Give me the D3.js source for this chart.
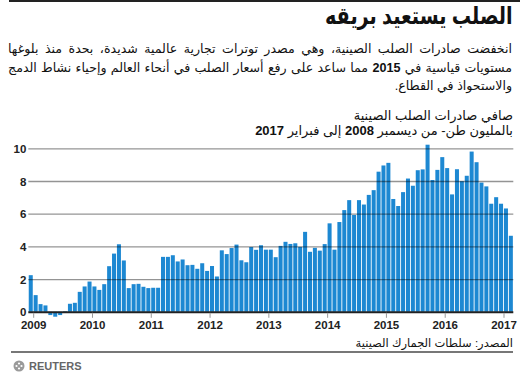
<!DOCTYPE html>
<html><head><meta charset="utf-8">
<script src="https://cdn.jsdelivr.net/npm/d3@7/dist/d3.min.js"></script>
<style>
html,body{margin:0;padding:0;background:#fff;}
#wrap{position:relative;width:520px;height:378px;overflow:hidden;font-family:"Liberation Sans","DejaVu Sans",sans-serif;color:#111;}
.t{position:absolute;direction:rtl;white-space:nowrap;}
.j{position:absolute;direction:rtl;text-align:justify;text-align-last:justify;white-space:nowrap;}
svg{position:absolute;left:0;top:0;}
</style></head>
<body><div id="wrap"></div>
<script>
const title = "الصلب يستعيد بريقه";
const introLines = [
  "انخفضت صادرات الصلب الصينية، وهي مصدر توترات تجارية عالمية شديدة، بحدة منذ بلوغها",
  "مستويات قياسية في <b>2015</b> مما ساعد على رفع أسعار الصلب في أنحاء العالم وإحياء نشاط الدمج",
  "والاستحواذ في القطاع."
];
const subtitle1 = "صافي صادرات الصلب الصينية";
const subtitle2 = "بالمليون طن- من ديسمبر <b>2008</b> إلى فبراير <b>2017</b>";
const source = "المصدر: سلطات الجمارك الصينية";

// months from Dec 2008 to Feb 2017
const startYear = 2008, startMonth = 11; // Dec 2008 (0-based month)
const exportsMt = [
  2.24,
  1.02, 0.47, 0.39, -0.2, -0.3, -0.2, 0.04, 0.49, 0.55, 1.22, 1.55, 1.85,
  1.55, 1.34, 1.69, 2.79, 3.56, 4.13, 3.14, 1.45, 1.69, 1.71, 1.53, 1.45,
  1.47, 1.47, 3.36, 3.36, 3.46, 3.08, 3.2, 2.85, 2.87, 2.63, 2.97, 2.5,
  2.8, 2.16, 3.76, 3.53, 3.9, 4.11, 3.15, 3.03, 3.96, 3.79, 4.07, 3.8,
  3.8, 3.34, 4.03, 4.28, 4.15, 4.19, 3.97, 4.89, 3.67, 3.91, 3.74, 4.14,
  5.41, 3.8, 5.49, 6.22, 6.83, 5.92, 6.83, 6.56, 7.15, 7.44, 8.57, 8.95,
  9.11, 6.9, 6.47, 7.32, 8.15, 7.71, 8.66, 8.71, 10.22, 8.06, 8.68, 9.46,
  8.79, 7.18, 8.72, 7.99, 8.32, 9.8, 9.15, 7.9, 7.67, 6.61, 7.01, 6.61,
  6.32, 4.65
];
const yTicks = [0, 2, 4, 6, 8, 10];
const yearTicks = [2009, 2010, 2011, 2012, 2013, 2014, 2015, 2016, 2017];

const wrap = d3.select("#wrap");

// top rule
wrap.append("div").style("position","absolute").style("left","9px").style("top","0px")
  .style("width","511px").style("height","2px").style("background","#222");

wrap.append("div").attr("class","t").style("right","7px").style("top","2px")
  .style("font-size","24px").style("font-weight","bold")
  .style("transform","scaleX(0.8)").style("transform-origin","right center").text(title);

introLines.forEach((l,i)=>{
  const d = wrap.append("div").attr("class", i<2 ? "j" : "t")
    .style("right","8px").style("top",(41+i*18.5)+"px")
    .style("font-size","12.6px").html(l);
  if(i<2) d.style("width","504px");
});

wrap.append("div").attr("class","t").style("right","7px").style("top","108px")
  .style("font-size","13px").html(subtitle1);
wrap.append("div").attr("class","t").style("right","7px").style("top","123px")
  .style("font-size","13px").html(subtitle2);

wrap.append("div").attr("class","t").style("right","7px").style("top","336px")
  .style("font-size","11.5px").text(source);

const svg = wrap.append("svg").attr("width",520).attr("height",378);

const mLeft = 28.3, mRight = 513.3, mTop = 148.3, mBottom = 311.8;
const n = exportsMt.length;
const x = d3.scaleBand().domain(d3.range(n)).range([mLeft, mRight]).paddingInner(0.18).paddingOuter(0.09);
const xm = d3.scaleLinear().domain([0, n]).range([mLeft, mRight]);
const y = d3.scaleLinear().domain([0, 10]).range([mBottom, mTop]);

// bars
svg.append("g").selectAll("rect").data(exportsMt).join("rect")
  .attr("x",(d,i)=>x(i)).attr("width",x.bandwidth())
  .attr("y",d=>y(Math.max(0,d))).attr("height",d=>Math.abs(y(d)-y(0)))
  .attr("fill","#1d88d2");

// gridlines on top
const yAxis = d3.axisLeft(y).tickValues(yTicks).tickSize(-(mRight-mLeft)).tickFormat(d3.format("d"));
const gy = svg.append("g").attr("transform",`translate(${mLeft},0)`).call(yAxis);
gy.select(".domain").remove();
gy.selectAll(".tick line").attr("stroke","#000").attr("stroke-opacity",0.42).attr("stroke-width",1.3);
gy.selectAll(".tick text").attr("x",-2).attr("dy","0.35em")
  .style("font-family","Liberation Sans, Arial, sans-serif").style("font-size","11.5px").style("font-weight","bold").attr("fill","#222");
gy.selectAll(".tick").filter(d=>d===0).select("line").attr("stroke","#222").attr("stroke-opacity",1).attr("stroke-width",2);

// x axis
const monthIndexOfYear = yr => (yr - startYear)*12 - startMonth;
const xAxis = d3.axisBottom(xm).tickValues(yearTicks.map(monthIndexOfYear))
  .tickSize(5).tickPadding(3).tickFormat((d,i)=>yearTicks[i]);
const gx = svg.append("g").attr("transform",`translate(0,${mBottom+1})`).call(xAxis);
gx.select(".domain").remove();
gx.selectAll(".tick line").attr("stroke","#999").attr("stroke-width",1);
gx.selectAll(".tick text").style("font-family","Liberation Sans, Arial, sans-serif")
  .style("font-size","11.5px").style("font-weight","bold").attr("fill","#222");

// bottom rule
svg.append("rect").attr("x",11).attr("y",351).attr("width",502).attr("height",2).attr("fill","#777");

// Reuters logo
const lg = svg.append("g").attr("transform","translate(19,366)");
lg.append("circle").attr("r",5.5).attr("fill","#9a9a9a");
[[-2.5,0],[2.5,0],[0,-2.5],[0,2.5]].forEach(([cx,cy])=>lg.append("circle").attr("cx",cx).attr("cy",cy).attr("r",1.1).attr("fill","#fff"));
svg.append("text").attr("x",29).attr("y",370).text("REUTERS")
  .style("font-family","Liberation Sans, Arial, sans-serif").style("font-size","11px").style("font-weight","bold").attr("fill","#666");
</script></body></html>
